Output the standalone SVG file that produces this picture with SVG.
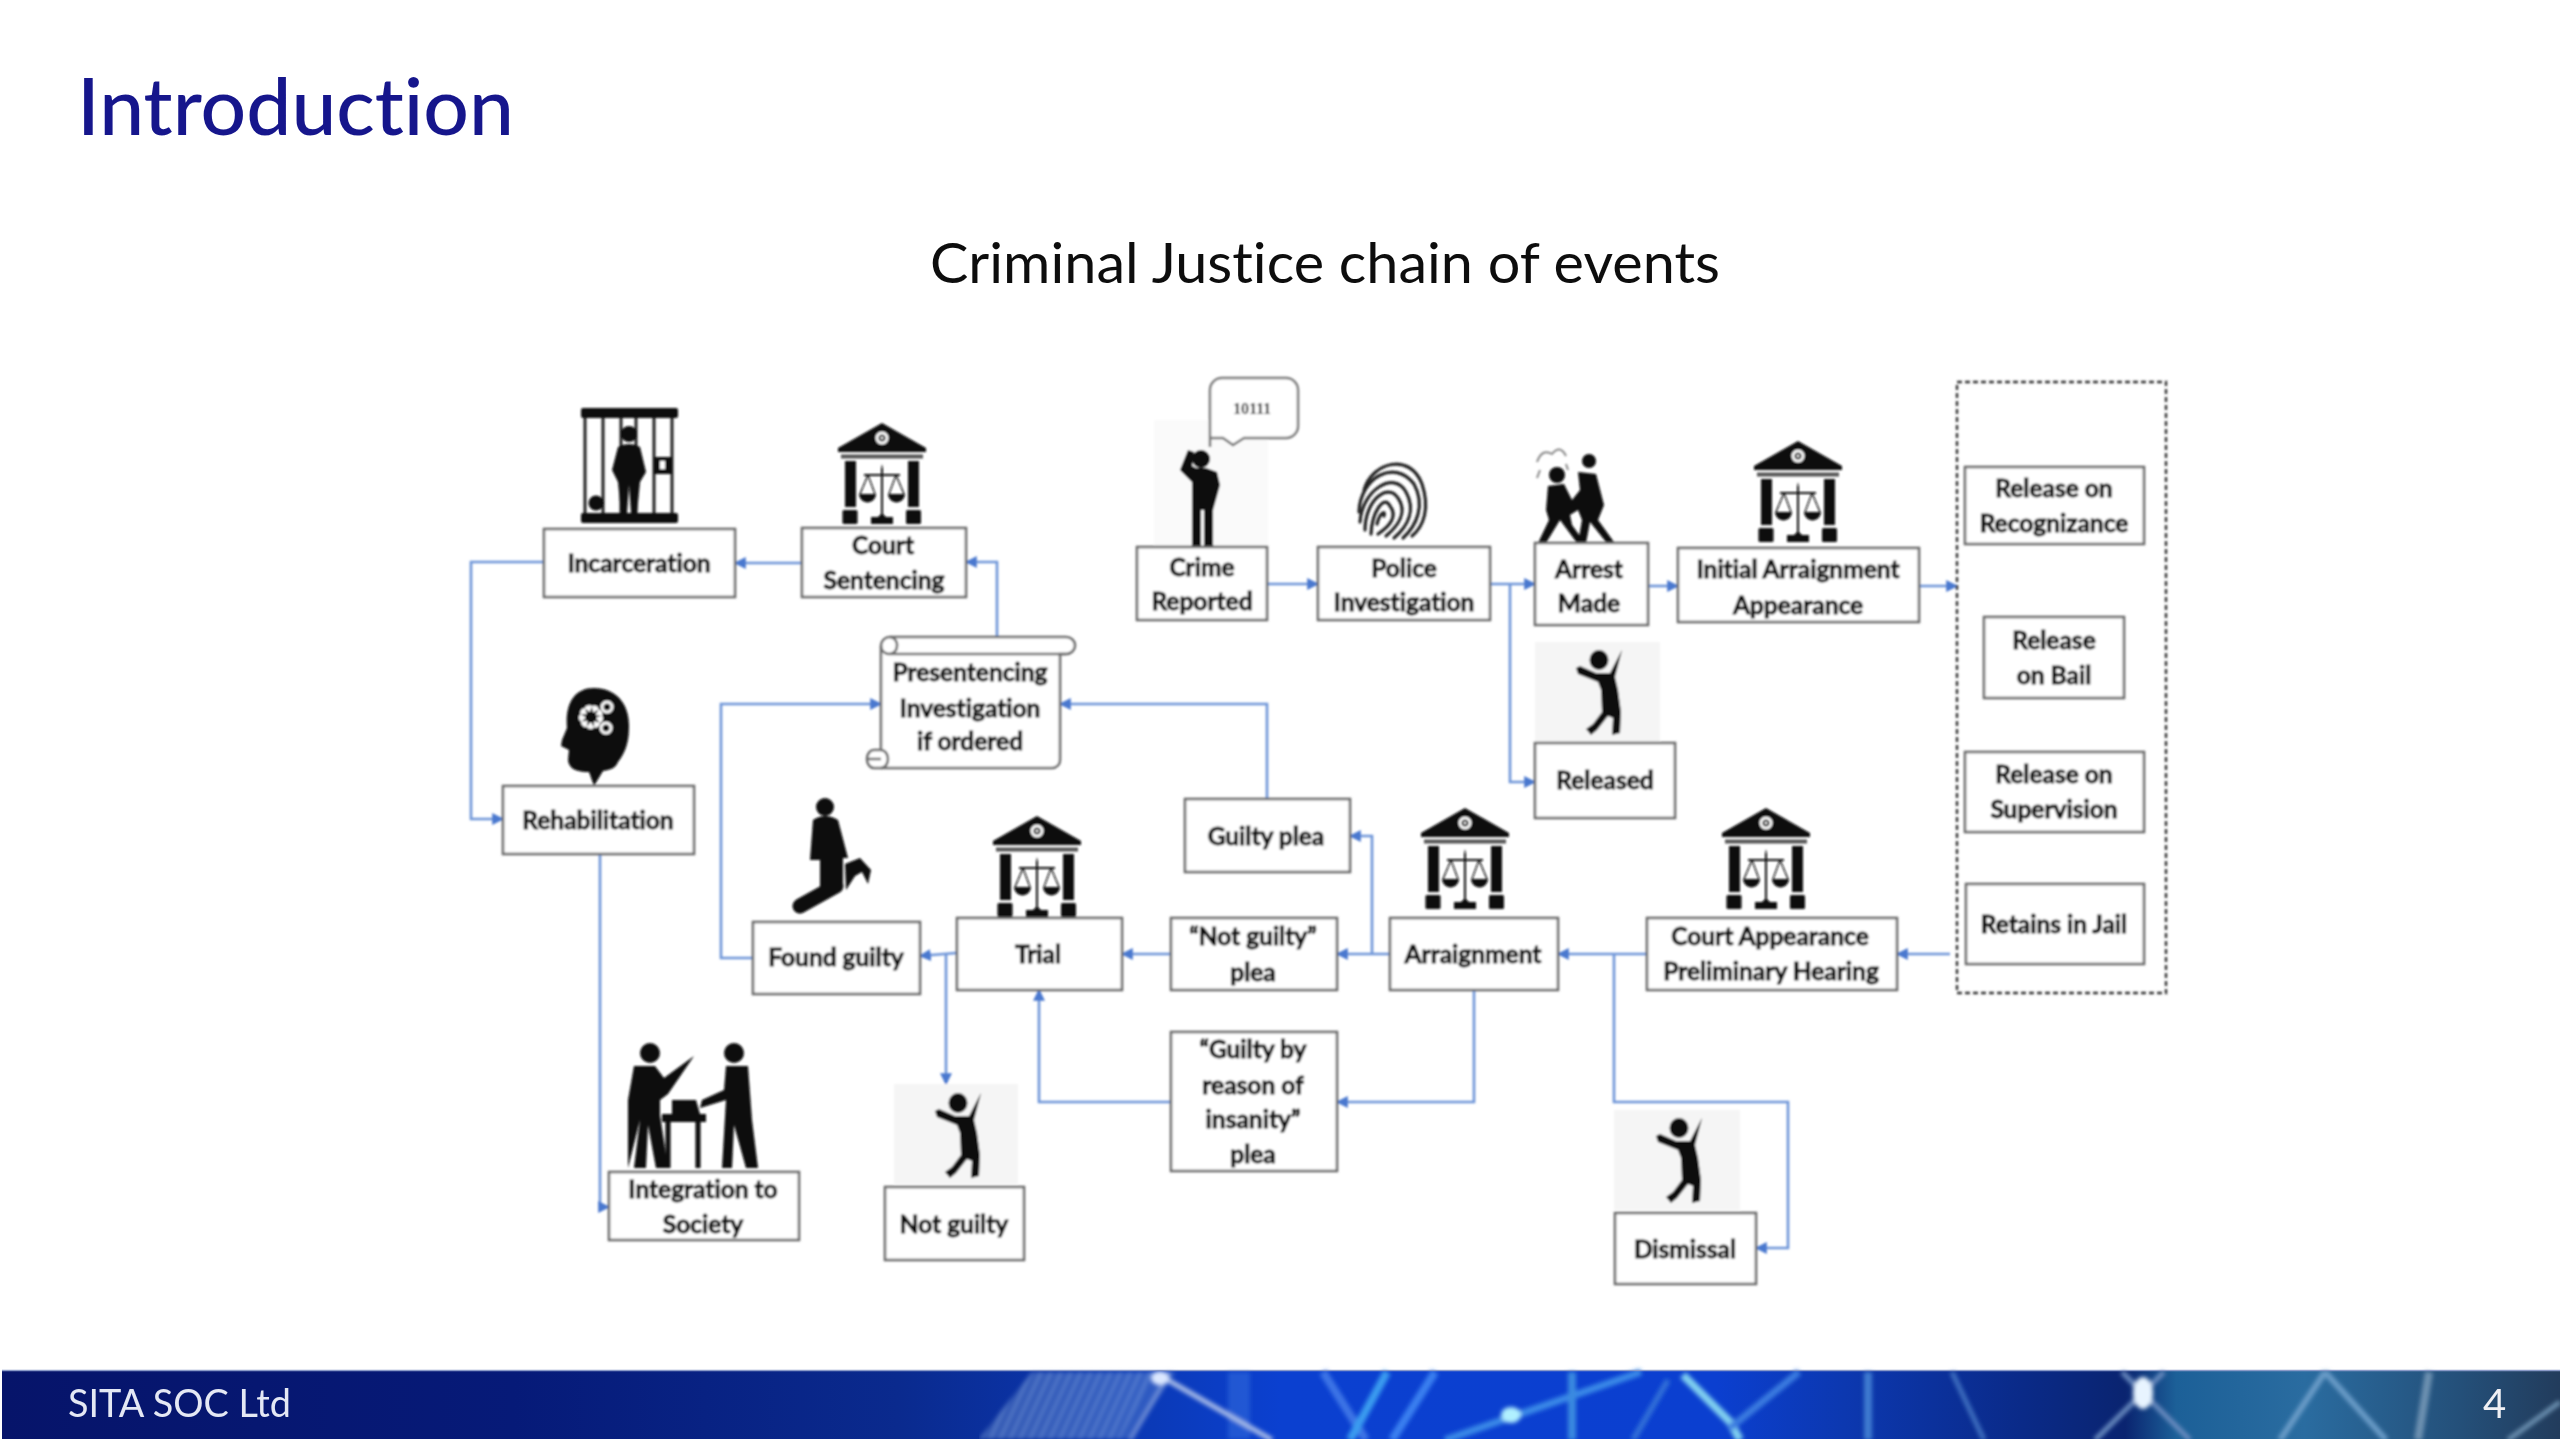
<svg xmlns="http://www.w3.org/2000/svg" width="2560" height="1439" viewBox="0 0 2560 1439">
<style>
.box{fill:#fff;stroke:#6a6a6a;stroke-width:2.6}
.t{font-family:"Lato","Open Sans","Liberation Sans",sans-serif;font-weight:700;font-size:24.5px;fill:#111;stroke:#111;stroke-width:.9;text-anchor:middle;font-variant-ligatures:none}
.h{font-family:Lato,"Open Sans",sans-serif;font-variant-ligatures:none}
.con{fill:none;stroke:#6d94d8;stroke-width:2.6;marker-end:url(#ah)}
.ic{fill:#0a0a0a}
.w{fill:#fff}
.bg{fill:#f5f5f5}
.fl{fill:none}
</style>
<defs>
<marker id="ah" viewBox="0 0 10 10" refX="9" refY="5" markerWidth="12" markerHeight="12" markerUnits="userSpaceOnUse" orient="auto"><path d="M0 0L10 5L0 10Z" fill="#4a78cf"/></marker>
<linearGradient id="fg" x1="0" x2="1" y1="0" y2="0">
<stop offset="0" stop-color="#06146a"/><stop offset=".2" stop-color="#061a78"/><stop offset=".35" stop-color="#0a2a8e"/><stop offset=".45" stop-color="#0b3ab8"/><stop offset=".5" stop-color="#0b40d0"/><stop offset=".67" stop-color="#0b3fd0"/><stop offset=".72" stop-color="#0c38b0"/><stop offset=".79" stop-color="#0a2a88"/><stop offset=".83" stop-color="#0a2470"/><stop offset=".85" stop-color="#1c6098"/><stop offset=".9" stop-color="#2a6ca0"/><stop offset=".96" stop-color="#24507a"/><stop offset="1" stop-color="#223c5c"/>
</linearGradient>
<filter id="soft" x="-2%" y="-2%" width="104%" height="104%"><feGaussianBlur stdDeviation="0.9"/></filter>
<filter id="fb" x="0" y="-10%" width="100%" height="120%"><feGaussianBlur stdDeviation="2"/></filter>
<filter id="tb" x="-2%" y="-10%" width="104%" height="120%"><feGaussianBlur stdDeviation="0.6"/></filter>
<pattern id="hatch" width="9" height="9" patternUnits="userSpaceOnUse" patternTransform="rotate(25)"><rect width="5" height="9" fill="#9cb8e6"/></pattern>
<g id="court">
<path class="ic" d="M44 0L88 25V29H0V25Z"/>
<circle class="w" cx="44" cy="15" r="6.500"/><circle class="ic" cx="44" cy="15" r="3.500"/><circle class="w" cx="44" cy="15" r="1.400"/>
<rect x="3" y="31.500" width="82" height="4" fill="#555"/>
<rect class="ic" x="7" y="38" width="11" height="46"/><rect class="ic" x="70" y="38" width="11" height="46"/>
<rect class="ic" x="4.500" y="87" width="15" height="14" rx="1.500"/><rect class="ic" x="68" y="87" width="15" height="14" rx="1.500"/>
<rect class="ic" x="33" y="94" width="22" height="7"/>
<path class="ic" d="M43 46L44 41L45 46V91L48 94H40L43 91Z"/>
<path d="M30 52L22 71M30 52L37 71M58 52L51 71M58 52L66 71" fill="none" stroke="#111" stroke-width="1.300"/>
<path d="M26 52H62" stroke="#111" stroke-width="2"/>
<path class="ic" d="M21 71H38A8.500 8.500 0 0 1 21 71ZM50 71H67A8.500 8.500 0 0 1 50 71Z"/>
</g>
<g id="joy">
<ellipse class="ic" cx="25" cy="10" rx="9.500" ry="10"/>
<path class="ic" d="M48 0L41 27L44 40L47 62L46 83L38 85L39 68L34 66L23 80L17 85L12 79L19 74L28 62L27 40L24 32L4 24L2 18L6 16L22 23L36 23Z"/>
</g>
</defs>

<rect width="2560" height="1439" fill="#fff"/>

<text class="h" x="77" y="135" font-size="80" font-weight="500" fill="#14148c" textLength="437" lengthAdjust="spacingAndGlyphs" filter="url(#tb)">Introduction</text>
<text class="h" x="930" y="283" font-size="57" fill="#111" textLength="790" lengthAdjust="spacingAndGlyphs" filter="url(#tb)">Criminal Justice chain of events</text>

<g id="diagram" filter="url(#soft)">
<g id="connectors">
<path class="con" d="M544 562H471V819H503"/>
<path class="con" d="M801 563H735"/>
<path class="con" d="M997 637V562H966"/>
<path class="con" d="M753 958H721V704H881"/>
<path class="con" d="M1267 799V704H1060"/>
<path class="con" d="M600 854V1207H609"/>
<path class="con" d="M956 953L920 956"/>
<path class="con" d="M946 955V1084"/>
<path class="con" d="M1171 954H1122"/>
<path class="con" d="M1390 954H1337"/>
<path class="con" d="M1372 954V836H1350"/>
<path class="con" d="M1474 990V1102H1337"/>
<path class="con" d="M1171 1102H1039V990"/>
<path class="con" d="M1647 954H1558"/>
<path class="con" d="M1614 954V1102H1788V1248H1756"/>
<path class="con" d="M1950 954H1897"/>
<path class="con" d="M1267 584H1318"/>
<path class="con" d="M1490 584H1535"/>
<path class="con" d="M1510 584V782H1535"/>
<path class="con" d="M1648 586H1678"/>
<path class="con" d="M1919 586H1957"/>
</g>

<g id="n-incarceration">
<g id="ic-jail">
<rect class="ic" x="581" y="408" width="97" height="10" rx="2"/><rect class="ic" x="581" y="513" width="97" height="10" rx="2"/>
<path d="M585 418V513M603 418V513M636 418V513M654 418V513M672 418V513M621 418V513" stroke="#222" stroke-width="3"/>
<circle class="ic" cx="629" cy="434" r="8"/>
<path class="ic" d="M618 447Q629 441 640 447L646 472L640 482L637 513H631L629 485L627 513H621L618 482L612 470Z"/>
<circle class="ic" cx="596" cy="503" r="7.500"/>
<rect class="ic" x="654" y="457" width="18" height="17"/><rect class="w" x="660" y="461" width="5" height="8"/>
</g>
<rect class="box" x="544" y="529" width="191" height="68"/>
<text class="t" x="639" y="572">Incarceration</text>
</g>

<g id="n-court-sentencing">
<use href="#court" x="838" y="423"/>
<rect class="box" x="802" y="528" width="164" height="69"/>
<text class="t" x="883" y="554">Court</text><text class="t" x="884" y="589">Sentencing</text>
</g>

<g id="n-presentencing">
<path class="box" d="M881 768H874A7 9 0 0 1 874 750H881V646A9 9 0 0 1 890 637H1066A9 8.500 0 0 1 1066 654H1060V760A8 8 0 0 1 1052 768Z"/>
<path d="M890 654H1066M881 646A8 8 0 0 0 897 646A8 8 0 0 0 890 637M881 750A7 9 0 0 1 881 768M868 759H881" fill="none" stroke="#6a6a6a" stroke-width="2.600"/>
<text class="t" x="970" y="681">Presentencing</text><text class="t" x="970" y="717">Investigation</text><text class="t" x="970" y="750">if ordered</text>
</g>

<g id="n-rehabilitation">
<g id="ic-head">
<path class="ic" d="M594 688C616 688 630 704 629 728C629 745 623 756 618 762C616 768 610 770 603 771L594 786L589 772C578 772 569 770 568 760L569 750L561 746L562 740L567 728C565 704 574 688 594 688Z"/>
<circle cx="591" cy="717" r="9" fill="none" stroke="#fff" stroke-width="6" stroke-dasharray="4 2.300"/>
<circle cx="591" cy="717" r="10" fill="none" stroke="#fff" stroke-width="2"/>
<circle cx="607" cy="707" r="5" fill="none" stroke="#fff" stroke-width="3"/><circle cx="606" cy="728" r="5" fill="none" stroke="#fff" stroke-width="3"/>
</g>
<rect class="box" x="503" y="786" width="191" height="68"/>
<text class="t" x="598" y="829">Rehabilitation</text>
</g>

<g id="n-crime-reported">
<rect class="bg" x="1154" y="420" width="114" height="127" opacity=".5"/>
<circle class="ic" cx="1201" cy="459" r="9"/>
<path class="ic" d="M1188 450L1180 470L1192 482L1192 546H1201V510H1204V546H1213V510L1220 485L1217 472L1206 468H1196L1192 466L1194 452Z"/>
<rect class="box" x="1137" y="547" width="130" height="73"/>
<text class="t" x="1202" y="576">Crime</text><text class="t" x="1202" y="610">Reported</text>
</g>

<g id="n-bubble">
<path d="M1222 378H1286A12 12 0 0 1 1298 390V426A12 12 0 0 1 1286 438H1244L1233 445L1223 438H1210V390A12 12 0 0 1 1222 378ZM1210 438V447" fill="#fff" stroke="#777" stroke-width="2.500"/>
<text x="1252" y="414" font-family="'Liberation Serif',serif" font-weight="700" font-size="16" text-anchor="middle" fill="#222">10111</text>
</g>

<g id="n-police">
<g id="ic-print" fill="none" stroke="#222" stroke-width="3.200" stroke-linecap="round">
<path d="M1364 490C1372 462 1410 452 1422 484C1430 508 1424 526 1412 536"/>
<path d="M1359 512C1360 478 1394 458 1414 484C1426 506 1416 526 1403 538"/>
<path d="M1360 522C1362 490 1394 470 1406 492C1416 510 1408 526 1394 538"/>
<path d="M1365 530C1365 500 1388 482 1398 498C1408 512 1398 526 1386 536"/>
<path d="M1371 534C1372 512 1384 494 1390 506C1398 516 1390 526 1378 534"/>
<path d="M1377 524C1380 512 1386 510 1384 516"/>
</g>
<rect class="box" x="1318" y="547" width="172" height="73"/>
<text class="t" x="1404" y="577">Police</text><text class="t" x="1404" y="611">Investigation</text>
</g>

<g id="n-arrest">
<g id="ic-arrest">
<circle class="ic" cx="1557" cy="475" r="8"/><circle class="ic" cx="1589" cy="461" r="7"/>
<path class="ic" d="M1548 486L1564 484L1572 500L1580 490L1578 472L1596 474L1604 505L1598 520L1614 542H1606L1590 522L1586 543H1578L1582 520L1578 510L1570 515L1572 525L1585 543H1577L1560 520L1546 543H1538L1549 520L1546 510Z"/>
<path d="M1537 462Q1542 448 1552 454Q1560 444 1566 456M1540 470L1537 478M1566 464L1568 470" fill="none" stroke="#888" stroke-width="2"/>
</g>
<rect class="box" x="1535" y="543" width="113" height="82"/>
<text class="t" x="1589" y="578">Arrest</text><text class="t" x="1589" y="612">Made</text>
</g>

<g id="n-initial">
<use href="#court" x="1754" y="441"/>
<rect class="box" x="1678" y="548" width="241" height="74"/>
<text class="t" x="1798" y="578">Initial Arraignment</text><text class="t" x="1798" y="614">Appearance</text>
</g>

<g id="n-released">
<rect class="bg" x="1535" y="642" width="125" height="101"/>
<use href="#joy" x="1574" y="650"/>
<rect class="box" x="1535" y="743" width="140" height="75"/>
<text class="t" x="1605" y="789">Released</text>
</g>

<g id="n-dashed"><rect x="1957" y="382" width="209" height="611" fill="none" stroke="#333" stroke-width="2.400" stroke-dasharray="5 3"/></g>

<g id="n-recog"><rect class="box" x="1965" y="467" width="179" height="77"/>
<text class="t" x="2054" y="497">Release on</text><text class="t" x="2054" y="532">Recognizance</text></g>
<g id="n-bail"><rect class="box" x="1984" y="617" width="140" height="81"/>
<text class="t" x="2054" y="649">Release</text><text class="t" x="2054" y="684">on Bail</text></g>
<g id="n-supervision"><rect class="box" x="1965" y="752" width="179" height="80"/>
<text class="t" x="2054" y="783">Release on</text><text class="t" x="2054" y="818">Supervision</text></g>
<g id="n-jail"><rect class="box" x="1966" y="884" width="178" height="80"/>
<text class="t" x="2054" y="933">Retains in Jail</text></g>

<g id="n-court-appearance">
<use href="#court" x="1722" y="808"/>
<rect class="box" x="1647" y="918" width="250" height="72"/>
<text class="t" x="1770" y="945">Court Appearance</text><text class="t" x="1771" y="980">Preliminary Hearing</text>
</g>

<g id="n-arraignment">
<use href="#court" x="1421" y="808"/>
<rect class="box" x="1390" y="918" width="168" height="72"/>
<text class="t" x="1473" y="963">Arraignment</text>
</g>

<g id="n-guilty-plea"><rect class="box" x="1185" y="799" width="165" height="73"/>
<text class="t" x="1266" y="845">Guilty plea</text></g>

<g id="n-not-guilty-plea"><rect class="box" x="1171" y="918" width="166" height="72"/>
<text class="t" x="1253" y="945">“Not guilty”</text><text class="t" x="1253" y="981">plea</text></g>

<g id="n-insanity"><rect class="box" x="1171" y="1032" width="166" height="139"/>
<text class="t" x="1253" y="1058">“Guilty by</text><text class="t" x="1253" y="1094">reason of</text><text class="t" x="1253" y="1128">insanity”</text><text class="t" x="1253" y="1163">plea</text></g>

<g id="n-trial">
<use href="#court" x="993" y="816"/>
<rect class="box" x="957" y="918" width="165" height="72"/>
<text class="t" x="1038" y="963">Trial</text>
</g>

<g id="n-found-guilty">
<g id="ic-kneel">
<circle class="ic" cx="825" cy="807" r="9"/>
<path class="ic" d="M813 820Q825 812 838 820L848 858H843V882L842 890H820V860H810Z"/>
<path d="M836 886L800 906" stroke="#0a0a0a" stroke-width="15" stroke-linecap="round"/>
<path class="ic" d="M845 864L860 858L871 870L868 884L862 872L855 876L846 890Z"/>
</g>
<rect class="box" x="753" y="922" width="167" height="72"/>
<text class="t" x="836" y="966">Found guilty</text>
</g>

<g id="n-not-guilty">
<rect class="bg" x="894" y="1084" width="124" height="100"/>
<use href="#joy" x="933" y="1093"/>
<rect class="box" x="885" y="1187" width="139" height="73"/>
<text class="t" x="954" y="1233">Not guilty</text>
</g>

<g id="n-integration">
<g id="ic-integration">
<circle class="ic" cx="650" cy="1053" r="10"/><circle class="ic" cx="734" cy="1053" r="10"/>
<path class="ic" d="M634 1066L655 1066L664 1078L694 1056L668 1094L660 1100V1115L668 1168H656L648 1125L646 1168H634L640 1120L628 1168V1100Z"/>
<path class="ic" d="M726 1066H748L752 1120L758 1168H746L734 1125L732 1168H722L726 1100L700 1108L702 1100L724 1090Z"/>
<path class="ic" d="M672 1100H696L700 1114H672Z"/>
<rect class="ic" x="662" y="1114" width="44" height="8"/>
<path d="M668 1122V1168M698 1122V1168" stroke="#0a0a0a" stroke-width="5"/>
</g>
<rect class="box" x="609" y="1172" width="190" height="68"/>
<text class="t" x="703" y="1198">Integration to</text><text class="t" x="703" y="1233">Society</text>
</g>

<g id="n-dismissal">
<rect class="bg" x="1614" y="1110" width="126" height="100"/>
<use href="#joy" x="1654" y="1118"/>
<rect class="box" x="1615" y="1213" width="141" height="71"/>
<text class="t" x="1685" y="1258">Dismissal</text>
</g>
</g>

<g id="footer">
<rect x="2" y="1371" width="2558" height="68" fill="url(#fg)"/>
<g filter="url(#fb)" class="fl">
<path d="M1032 1372H1176L1130 1439H979Z" fill="#6c94d4" opacity=".35"/>
<path d="M1032 1372H1156L1120 1439H979Z" fill="url(#hatch)" opacity=".3"/>
<path d="M1239 1372V1439" stroke="#3a78e0" stroke-width="22" opacity=".45"/>
<path d="M1159 1375L1272 1440" stroke="#a8bce8" stroke-width="5"/>
<path d="M1170 1372L1130 1440" stroke="#90a8e0" stroke-width="5" opacity=".6"/>
<path d="M1323 1372L1366 1440" stroke="#3c74e6" stroke-width="8"/>
<path d="M1387 1372L1350 1440" stroke="#3a9cf0" stroke-width="8"/>
<path d="M1435 1372L1392 1440" stroke="#3a80f0" stroke-width="8"/>
<path d="M1641 1372L1445 1440" stroke="#3a8ae8" stroke-width="7"/>
<path d="M1572 1372V1440" stroke="#3a8ae0" stroke-width="8"/>
<path d="M1668 1380L1633 1440" stroke="#3070d8" stroke-width="6"/>
<path d="M1683 1375L1730 1422L1740 1440" stroke="#80d0f0" stroke-width="8"/>
<path d="M1799 1372L1730 1428" stroke="#3a7ce0" stroke-width="7"/>
<path d="M1868 1372V1440" stroke="#3f7cd0" stroke-width="8"/>
<path d="M1952 1372L1984 1440" stroke="#3f70c0" stroke-width="5"/>
<path d="M2122 1372L2190 1440M2164 1372L2095 1440" stroke="#6a8cc0" stroke-width="5"/>
<path d="M2325 1372L2280 1440M2325 1372L2386 1440" stroke="#6a9cc8" stroke-width="6"/>
<path d="M2429 1372L2418 1440" stroke="#6c90b0" stroke-width="8"/>
<path d="M2560 1402L2508 1440" stroke="#6c90b0" stroke-width="5"/>
<ellipse cx="1511" cy="1415" rx="10" ry="8" fill="#b0f0ff"/>
<ellipse cx="2143" cy="1393" rx="10" ry="16" fill="#e8f4ff"/>
<ellipse cx="1160" cy="1378" rx="9" ry="7" fill="#dce8ff"/>
</g>
<path d="M2 1370.500H2560" stroke="#8a9ac8" stroke-width="1.500"/>
<text class="h" x="68" y="1417" font-size="38" fill="#e4e8f4" textLength="223" lengthAdjust="spacingAndGlyphs" filter="url(#tb)">SITA SOC Ltd</text>
<text class="h" x="2483" y="1418" font-size="40" fill="#f0f0f4" filter="url(#tb)">4</text>
</g>
</svg>
